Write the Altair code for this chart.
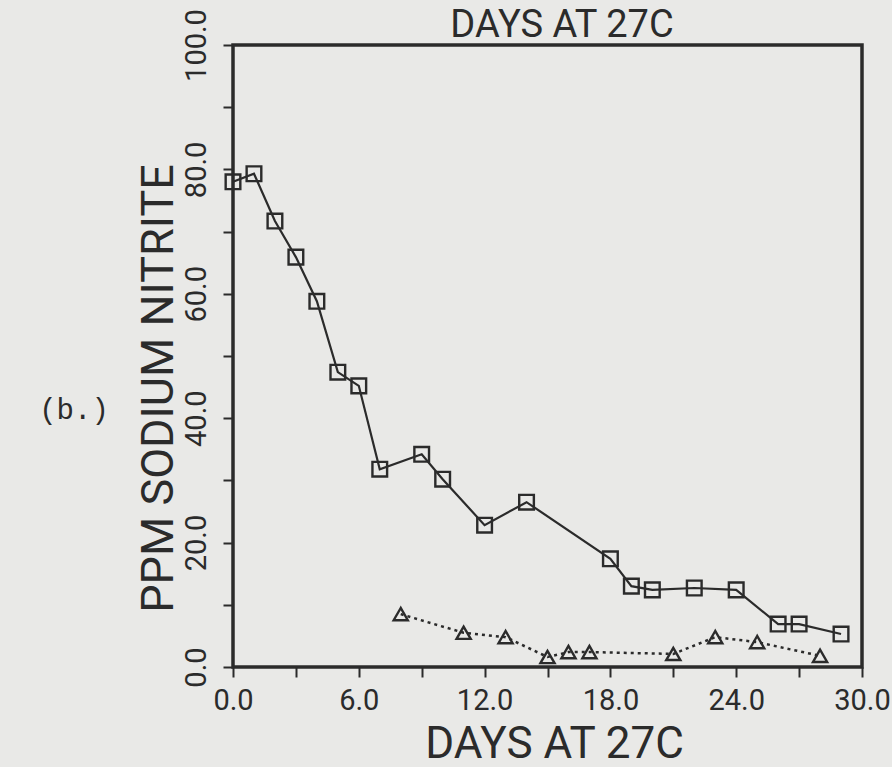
import altair as alt
import pandas as pd

# Nitrite content, square series (solid line)
days_a = [0, 1, 2, 3, 4, 5, 6, 7, 9, 10, 12, 14, 18, 19, 20, 22, 24, 26, 27, 29]
ppm_a = [78.0, 79.3, 71.7, 65.9, 58.8, 47.4, 45.2, 31.8, 34.2, 30.2, 22.8, 26.5,
         17.4, 13.0, 12.4, 12.7, 12.4, 6.9, 6.9, 5.3]

# Nitrite content, triangle series (dotted line)
days_b = [8, 11, 13, 15, 16, 17, 21, 23, 25, 28]
ppm_b = [8.5, 5.5, 4.8, 1.6, 2.4, 2.4, 2.1, 4.8, 4.0, 1.8]

x_ticks = list(range(0, 31, 3))
y_ticks = list(range(0, 101, 10))

top_title = "DAYS AT 27C"
panel_label = "(b.)"

INK = "#2b2b2b"
PAPER = "#e9e9e7"
FONT = "Roboto"

df_a = pd.DataFrame({"day": days_a, "ppm": ppm_a})
df_b = pd.DataFrame({"day": days_b, "ppm": ppm_b})

x_enc = alt.X(
    "day:Q",
    scale=alt.Scale(domain=[0, 30], nice=False, zero=False),
    axis=alt.Axis(
        values=x_ticks,
        labelExpr="datum.value % 6 == 0 ? format(datum.value, '.1f') : ''",
        title="DAYS AT 27C",
        titleX=321,
        titleY=77,
        titleAlign="center",
        titleBaseline="middle",
        titleFontSize=44,
        titleFontWeight="normal",
        labelFontSize=29,
        labelPadding=9,
        labelFlush=False,
        labelOverlap=False,
    ),
)
y_enc = alt.Y(
    "ppm:Q",
    scale=alt.Scale(domain=[0, 100], nice=False),
    axis=alt.Axis(
        values=y_ticks,
        labelExpr="datum.value % 20 == 0 ? format(datum.value, '.1f') : ''",
        labelAngle=270,
        labelAlign="center",
        labelBaseline="bottom",
        labelPadding=12,
        labelFontSize=29,
        labelFlush=False,
        labelOverlap=False,
        title="PPM SODIUM NITRITE",
        titleAngle=270,
        titleX=-75,
        titleY=343,
        titleAlign="center",
        titleBaseline="middle",
        titleFontSize=45,
        titleFontWeight="normal",
    ),
)

line_a = alt.Chart(df_a).mark_line(color=INK, strokeWidth=2.2).encode(x=x_enc, y=y_enc)
pts_a = alt.Chart(df_a).mark_point(
    shape="square", size=215, filled=False, color=INK, strokeWidth=2.4, opacity=1
).encode(x="day:Q", y="ppm:Q")

line_b = alt.Chart(df_b).mark_line(
    color=INK, strokeWidth=2.5, strokeDash=[3, 4]
).encode(x="day:Q", y="ppm:Q")
pts_b = alt.Chart(df_b).mark_point(
    shape="triangle-up", size=200, filled=False, color=INK, strokeWidth=2.4, opacity=1
).encode(x="day:Q", y="ppm:Q")

# Heading above the frame
heading = alt.Chart(pd.DataFrame({"t": [top_title]})).mark_text(
    font=FONT, fontSize=38, color=INK, align="center", baseline="middle"
).encode(text="t:N", x=alt.value(329), y=alt.value(-19))

# Panel letter to the left of the plot
panel_tag = alt.Chart(pd.DataFrame({"t": [panel_label]})).mark_text(
    font="Liberation Mono", fontSize=29, color=INK, align="center", baseline="middle"
).encode(text="t:N", x=alt.value(-159), y=alt.value(365))

chart = (
    alt.layer(line_a, pts_a, line_b, pts_b, heading, panel_tag)
    .properties(
        width=629,
        height=622,
        background=PAPER,
        padding={"left": 233, "top": 45, "right": 30, "bottom": 100},
        autosize=alt.AutoSizeParams(type="none"),
    )
    .configure_view(stroke=INK, strokeWidth=3.5, fill=PAPER)
    .configure_axis(
        domain=False,
        grid=False,
        ticks=True,
        tickSize=10,
        tickWidth=2,
        tickColor=INK,
        labelColor=INK,
        titleColor=INK,
        labelFont=FONT,
        titleFont=FONT,
    )
)

chart.save("out.html", embed_options={"renderer": "svg", "actions": False})
